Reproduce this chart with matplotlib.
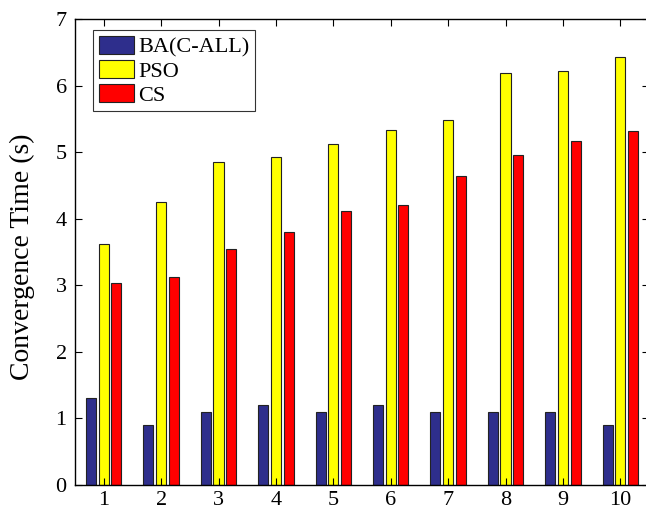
import matplotlib
matplotlib.use("Agg")
import matplotlib.pyplot as plt
import numpy as np

plt.rcParams['font.family'] = ['Liberation Serif', 'DejaVu Serif']

categories = [1, 2, 3, 4, 5, 6, 7, 8, 9, 10]
series_names = ["BA(C-ALL)", "PSO", "CS"]
ba = [1.3, 0.9, 1.1, 1.2, 1.1, 1.2, 1.1, 1.1, 1.1, 0.9]
pso = [3.62, 4.25, 4.85, 4.92, 5.12, 5.33, 5.48, 6.19, 6.22, 6.43]
cs = [3.04, 3.13, 3.54, 3.80, 4.11, 4.21, 4.64, 4.96, 5.17, 5.32]
colors = ["#2e2e8c", "#ffff00", "#ff0000"]

fig = plt.figure(figsize=(6.46, 5.15), dpi=100)
ax = fig.add_axes([75/646, 1 - 485/515, (649-75)/646, (485-19)/515])

x = np.array(categories, dtype=float)
offset = 0.22
width = 0.175
for i, (vals, name, c) in enumerate(zip([ba, pso, cs], series_names, colors)):
    ax.bar(x + (i - 1) * offset, vals, width, color=c, edgecolor='#222222',
           linewidth=0.8, label=name)

ax.set_xlim(0.5, 10.5)
ax.set_ylim(0, 7)
ax.set_xticks(categories)
ax.set_yticks(range(0, 8))
ax.tick_params(direction='in', top=True, right=True, labelsize=16, length=5, width=0.8)
ax.tick_params(axis='x', pad=4)
ax.tick_params(axis='y', pad=6)
ax.set_ylabel("Convergence Time (s)", fontsize=20)
ax.yaxis.set_label_coords(-0.069, 0.489)
for s in ax.spines.values():
    s.set_linewidth(1.0)

leg = ax.legend(loc='upper left', bbox_to_anchor=(18/574, 1 - 11/466), fontsize=16,
                frameon=True, fancybox=False, edgecolor='black',
                handlelength=1.6, handleheight=0.9, borderaxespad=0.0,
                labelspacing=0.1, handletextpad=0.2, borderpad=0.25)
leg.get_frame().set_linewidth(0.8)

fig.savefig("out.png", dpi=100)
